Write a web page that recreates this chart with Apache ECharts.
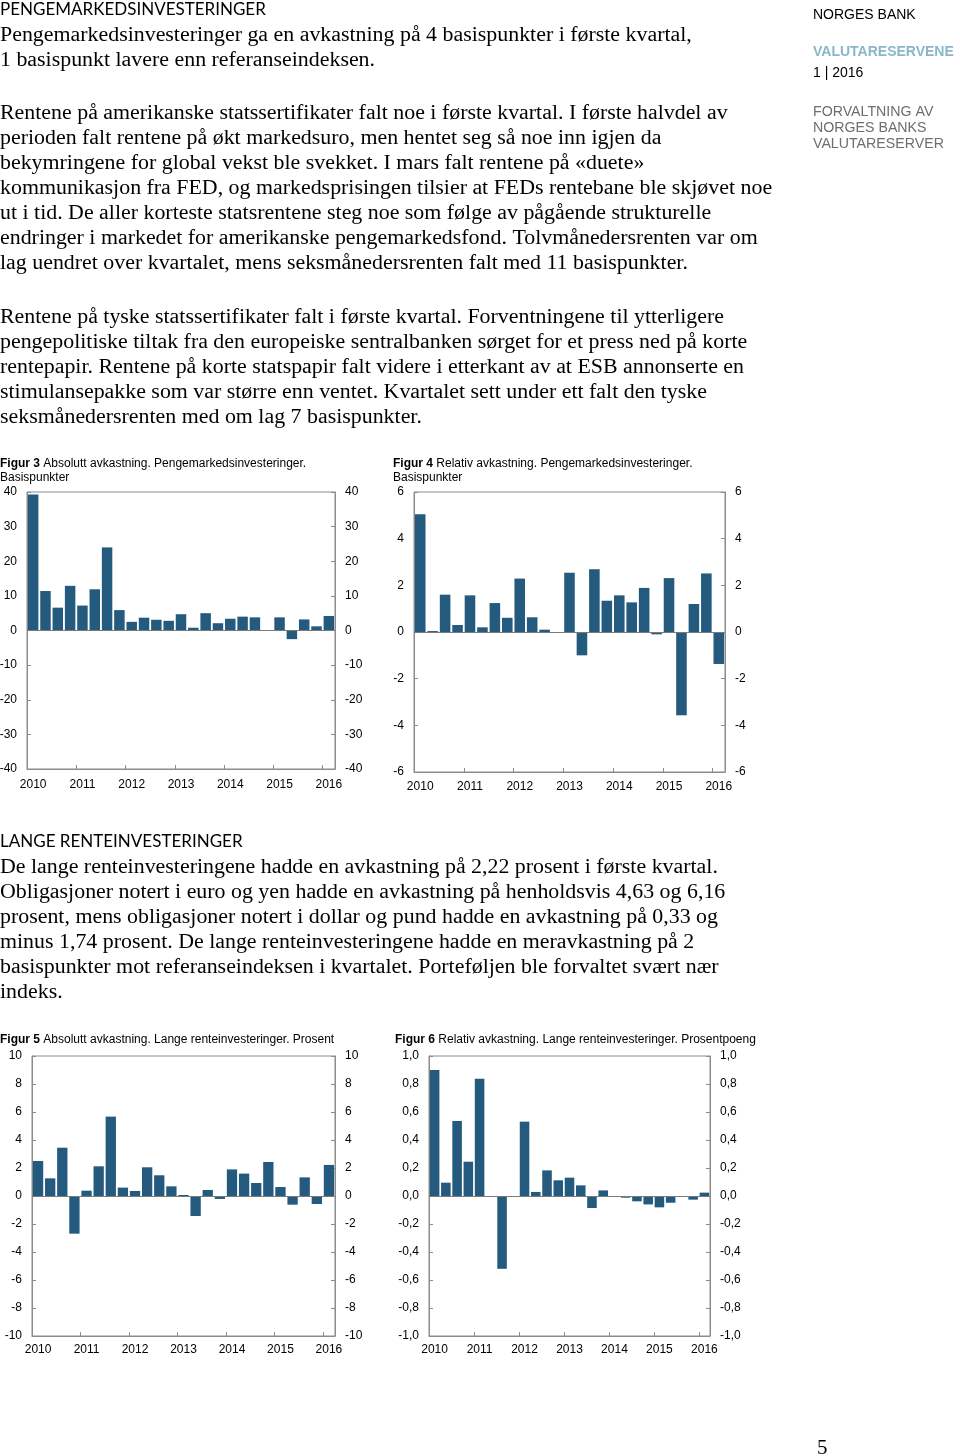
<!DOCTYPE html>
<html>
<head>
<meta charset="utf-8">
<script src="https://cdn.jsdelivr.net/npm/echarts@6/dist/echarts.min.js"></script>
<style>
html,body{margin:0;padding:0;background:#fff;}
#c{width:960px;height:1456px;}
</style>
</head>
<body>
<div id="c"></div>
<script>
// ---- Data ----
const quarters = ['2010K1','2010K2','2010K3','2010K4','2011K1','2011K2','2011K3','2011K4',
  '2012K1','2012K2','2012K3','2012K4','2013K1','2013K2','2013K3','2013K4',
  '2014K1','2014K2','2014K3','2014K4','2015K1','2015K2','2015K3','2015K4','2016K1'];

// Figur 3: Absolutt avkastning, pengemarkedsinvesteringer (basispunkter)
const absMoney = [39.3, 11.4, 6.6, 12.9, 7.2, 11.9, 24.0, 5.9, 2.5, 3.7, 3.1, 2.8, 4.7, 0.8, 5.0, 2.1, 3.4, 4.0, 3.8, 0.0, 3.8, -2.5, 3.2, 1.2, 4.2];
// Figur 4: Relativ avkastning, pengemarkedsinvesteringer (basispunkter)
const relMoney = [5.05, 0.04, 1.6, 0.3, 1.57, 0.2, 1.24, 0.61, 2.29, 0.63, 0.1, -0.04, 2.54, -1.0, 2.69, 1.34, 1.57, 1.27, 1.89, -0.1, 2.31, -3.57, 1.2, 2.51, -1.37];
// Figur 5: Absolutt avkastning, lange renteinvesteringer (prosent)
const absLong = [2.5, 1.26, 3.45, -2.69, 0.38, 2.12, 5.67, 0.6, 0.36, 2.05, 1.48, 0.69, 0.07, -1.43, 0.43, -0.21, 1.9, 1.6, 0.93, 2.43, 0.64, -0.62, 1.33, -0.57, 2.22];
// Figur 6: Relativ avkastning, lange renteinvesteringer (prosentpoeng)
const relLong = [0.9, 0.095, 0.536, 0.245, 0.838, -0.005, -0.52, -0.007, 0.531, 0.029, 0.183, 0.112, 0.131, 0.076, -0.086, 0.04, -0.002, -0.012, -0.038, -0.06, -0.081, -0.048, -0.003, -0.026, 0.024];

const fig3Ticks = {min: -40, max: 40, interval: 10};
const fig4Ticks = {min: -6, max: 6, interval: 2};
const fig5Ticks = {min: -10, max: 10, interval: 2};
const fig6Ticks = {min: -1, max: 1, interval: 0.2};

const heading1 = 'PENGEMARKEDSINVESTERINGER';
const para1 = ['Pengemarkedsinvesteringer ga en avkastning på 4 basispunkter i første kvartal,',
  '1 basispunkt lavere enn referanseindeksen.'];
const para2 = ['Rentene på amerikanske statssertifikater falt noe i første kvartal. I første halvdel av',
  'perioden falt rentene på økt markedsuro, men hentet seg så noe inn igjen da',
  'bekymringene for global vekst ble svekket. I mars falt rentene på «duete»',
  'kommunikasjon fra FED, og markedsprisingen tilsier at FEDs rentebane ble skjøvet noe',
  'ut i tid. De aller korteste statsrentene steg noe som følge av pågående strukturelle',
  'endringer i markedet for amerikanske pengemarkedsfond. Tolvmånedersrenten var om',
  'lag uendret over kvartalet, mens seksmånedersrenten falt med 11 basispunkter.'];
const para3 = ['Rentene på tyske statssertifikater falt i første kvartal. Forventningene til ytterligere',
  'pengepolitiske tiltak fra den europeiske sentralbanken sørget for et press ned på korte',
  'rentepapir. Rentene på korte statspapir falt videre i etterkant av at ESB annonserte en',
  'stimulansepakke som var større enn ventet. Kvartalet sett under ett falt den tyske',
  'seksmånedersrenten med om lag 7 basispunkter.'];
const heading2 = 'LANGE RENTEINVESTERINGER';
const para4 = ['De lange renteinvesteringene hadde en avkastning på 2,22 prosent i første kvartal.',
  'Obligasjoner notert i euro og yen hadde en avkastning på henholdsvis 4,63 og 6,16',
  'prosent, mens obligasjoner notert i dollar og pund hadde en avkastning på 0,33 og',
  'minus 1,74 prosent. De lange renteinvesteringene hadde en meravkastning på 2',
  'basispunkter mot referanseindeksen i kvartalet. Porteføljen ble forvaltet svært nær',
  'indeks.'];

const captions = [
  ['Figur 3', 'Absolutt avkastning. Pengemarkedsinvesteringer.', 'Basispunkter'],
  ['Figur 4', 'Relativ avkastning. Pengemarkedsinvesteringer.', 'Basispunkter'],
  ['Figur 5', 'Absolutt avkastning. Lange renteinvesteringer. Prosent', ''],
  ['Figur 6', 'Relativ avkastning. Lange renteinvesteringer. Prosentpoeng', '']
];

// ---- Styling ----
const BAR = '#235a7d';
const FRAME = '#8c8c8c';
const SERIF = '"Liberation Serif", "Times New Roman", serif';
const SANS = '"Liberation Sans", Arial, sans-serif';
const HEAD = 'Lato, "Open Sans", sans-serif';

const grids = [
  {left: 27, top: 492, width: 308, height: 277},
  {left: 414, top: 492, width: 311, height: 280},
  {left: 32, top: 1056, width: 303, height: 280},
  {left: 429, top: 1056, width: 281, height: 280}
];
const xMargins = [10, 9, 8, 8];
const ticksList = [fig3Ticks, fig4Ticks, fig5Ticks, fig6Ticks];
const dataList = [absMoney, relMoney, absLong, relLong];
const fmtList = [
  v => String(v),
  v => String(v),
  v => String(v),
  v => v.toFixed(1).replace('.', ',')
];

const yearIdx = (i) => i % 4 === 0;

const option = {
  animation: false,
  backgroundColor: '#fff',
  grid: grids.map(g => Object.assign({show: true, borderColor: FRAME, borderWidth: 1, containLabel: false, outerBoundsMode: 'none'}, g)),
  xAxis: grids.map((g, k) => ({
    type: 'category', gridIndex: k, data: quarters, boundaryGap: true,
    axisLine: {show: true, onZero: false, lineStyle: {color: FRAME, width: 1}},
    axisTick: {show: true, inside: true, length: 4, interval: (i) => yearIdx(i), alignWithLabel: false, lineStyle: {color: FRAME}},
    axisLabel: {interval: (i) => yearIdx(i), formatter: (v) => v.slice(0, 4), color: '#000', fontFamily: SANS, fontSize: 12, margin: xMargins[k]},
    splitLine: {show: false}
  })),
  yAxis: [],
  series: [],
  graphic: []
};

grids.forEach((g, k) => {
  const t = ticksList[k];
  ['left', 'right'].forEach(pos => {
    option.yAxis.push({
      type: 'value', gridIndex: k, position: pos, min: t.min, max: t.max, interval: t.interval,
      axisLine: {show: true, lineStyle: {color: FRAME}},
      axisTick: {show: true, inside: true, length: 4, lineStyle: {color: FRAME}},
      axisLabel: {color: '#000', fontFamily: SANS, fontSize: 12, margin: 10, formatter: fmtList[k]},
      splitLine: {show: false}
    });
  });
  option.series.push({
    type: 'bar', xAxisIndex: k, yAxisIndex: k * 2, data: dataList[k],
    barCategoryGap: '15%',
    itemStyle: {color: BAR},
    markLine: {
      silent: true, symbol: 'none', label: {show: false},
      lineStyle: {color: '#7a7a7a', width: 1, type: 'solid'},
      data: [{yAxis: 0}]
    }
  });
});

// ---- Text blocks ----
const G = option.graphic;
function txt(x, y, text, font, fill, lh, extra) {
  G.push({type: 'text', x: x, y: y, silent: true,
    style: Object.assign({text: text, font: font, fill: fill || '#000', lineHeight: lh || undefined, verticalAlign: 'top', align: 'left'}, extra || {})});
}
txt(0, 1, heading1, '17px ' + HEAD, '#000', 18);
txt(0, 22.5, para1.join('\n'), '21.9px ' + SERIF, '#000', 25);
txt(0, 100.5, para2.join('\n'), '21.9px ' + SERIF, '#000', 25);
txt(0, 304.5, para3.join('\n'), '21.9px ' + SERIF, '#000', 25);
txt(0, 833, heading2, '17px ' + HEAD, '#000', 18);
txt(0, 854.5, para4.join('\n'), '21.9px ' + SERIF, '#000', 25);

// sidebar
txt(813, 7, 'NORGES BANK', '14px ' + SANS, '#000', 16);
txt(813, 44, 'VALUTARESERVENE', 'bold 14px ' + SANS, '#8ab6cb', 16);
txt(813, 65, '1 | 2016', '14px ' + SANS, '#000', 16);
txt(813, 104, 'FORVALTNING AV\nNORGES BANKS\nVALUTARESERVER', '14.2px ' + SANS, '#6e6e6e', 16);

// captions
const capPos = [[0, 457], [393, 457], [0, 1033], [395, 1033]];
captions.forEach((c, k) => {
  const lines = '{b|' + c[0] + '} ' + c[1] + (c[2] ? '\n' + c[2] : '');
  G.push({type: 'text', x: capPos[k][0], y: capPos[k][1], silent: true,
    style: {text: lines, font: '12px ' + SANS, fill: '#000', lineHeight: 14, verticalAlign: 'top',
      rich: {b: {fontWeight: 'bold', fontFamily: SANS, fontSize: 12, fill: '#000'}}}});
});

// page number
txt(817, 1437, '5', '21px ' + SERIF, '#000', 22);

const chart = echarts.init(document.getElementById('c'), null, {renderer: 'canvas'});
chart.setOption(option);
</script>
</body>
</html>
